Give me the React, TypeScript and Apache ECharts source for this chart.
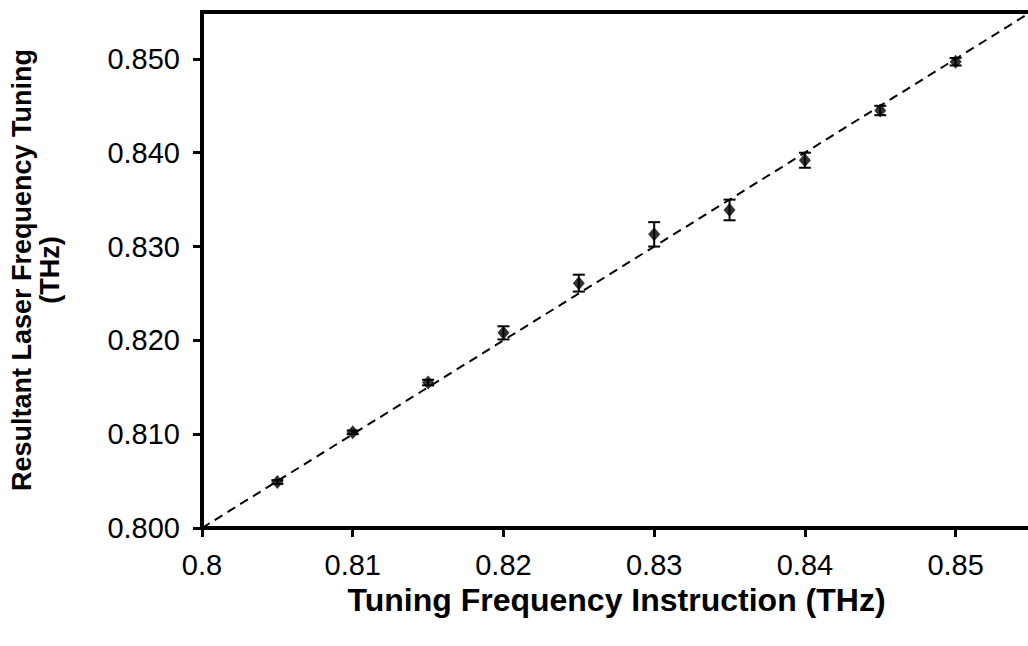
import React, { useEffect, useRef } from "react";
import * as echarts from "echarts";

const instruction = [0.805, 0.81, 0.815, 0.82, 0.825, 0.83, 0.835, 0.84, 0.845, 0.85];
const resultant = [0.8049, 0.8102, 0.8155, 0.8208, 0.8261, 0.8313, 0.8339, 0.8392, 0.8445, 0.8497];
const errorHalf = [0.0002, 0.0002, 0.0003, 0.0007, 0.0009, 0.0013, 0.0011, 0.0008, 0.0005, 0.0004];
const trendX = [0.8, 0.855];
const trendY = [0.8, 0.855];

const xTitle = "Tuning Frequency Instruction (THz)";
const yTitle = "Resultant Laser Frequency Tuning\n(THz)";

export default function App() {
  const ref = useRef<HTMLDivElement>(null);
  useEffect(() => {
    if (!ref.current) return;
    const chart = echarts.init(ref.current, null, { renderer: "svg" });
    const font = "'Liberation Sans', Arial, sans-serif";
    const points = instruction.map((x, i) => [x, resultant[i]]);
    const errs = instruction.map((x, i) => [x, resultant[i] - errorHalf[i], resultant[i] + errorHalf[i]]);
    const trend = trendX.map((x, i) => [x, trendY[i]]);
    chart.setOption({
      animation: false,
      backgroundColor: "#fff",
      grid: {
        left: 202,
        top: 12,
        right: -3,
        bottom: 118,
        containLabel: false,
        outerBoundsMode: "none",
        show: true,
        borderColor: "#000",
        borderWidth: 4,
      },
      xAxis: {
        type: "value",
        min: 0.8,
        max: 0.855,
        interval: 0.01,
        name: xTitle,
        nameLocation: "middle",
        nameGap: 55,
        nameTextStyle: { fontFamily: font, fontSize: 32, fontWeight: "bold", color: "#000" },
        axisLine: { show: true, lineStyle: { color: "#000", width: 4 } },
        axisTick: { show: true, length: 9, lineStyle: { color: "#000", width: 3 } },
        splitLine: { show: false },
        axisLabel: {
          showMaxLabel: false,
          margin: 22,
          fontFamily: font,
          fontSize: 29,
          color: "#000",
          formatter: (v: number) => String(+v.toFixed(2)),
        },
      },
      yAxis: {
        type: "value",
        min: 0.8,
        max: 0.855,
        interval: 0.01,
        name: yTitle,
        nameLocation: "middle",
        nameGap: 138,
        nameRotate: 90,
        nameTextStyle: { fontFamily: font, fontSize: 27, fontWeight: "bold", color: "#000", lineHeight: 28, align: "center" },
        axisLine: { show: true, lineStyle: { color: "#000", width: 4 } },
        axisTick: { show: true, length: 9, lineStyle: { color: "#000", width: 3 } },
        splitLine: { show: false },
        axisLabel: {
          showMaxLabel: false,
          margin: 22,
          fontFamily: font,
          fontSize: 29,
          color: "#000",
          formatter: (v: number) => v.toFixed(3),
        },
      },
      series: [
        {
          type: "line",
          data: trend,
          symbol: "none",
          lineStyle: { color: "#000", width: 2, type: [9, 6] },
          z: 1,
        },
        {
          type: "custom",
          data: errs,
          z: 3,
          renderItem: (params: any, api: any) => {
            const lo = api.coord([api.value(0), api.value(1)]);
            const hi = api.coord([api.value(0), api.value(2)]);
            const cap = 6;
            const style = { stroke: "#000", lineWidth: 2 };
            return {
              type: "group",
              children: [
                { type: "line", shape: { x1: lo[0], y1: lo[1], x2: hi[0], y2: hi[1] }, style },
                { type: "line", shape: { x1: lo[0] - cap, y1: lo[1], x2: lo[0] + cap, y2: lo[1] }, style },
                { type: "line", shape: { x1: hi[0] - cap, y1: hi[1], x2: hi[0] + cap, y2: hi[1] }, style },
              ],
            };
          },
        },
        {
          type: "scatter",
          data: points,
          symbol: "diamond",
          symbolSize: [12, 14],
          itemStyle: { color: "#000" },
          z: 4,
        },
      ],
    });
    return () => chart.dispose();
  }, []);
  return <div ref={ref} style={{ position: "fixed", left: 0, top: 0, width: 1028, height: 646 }} />;
}
